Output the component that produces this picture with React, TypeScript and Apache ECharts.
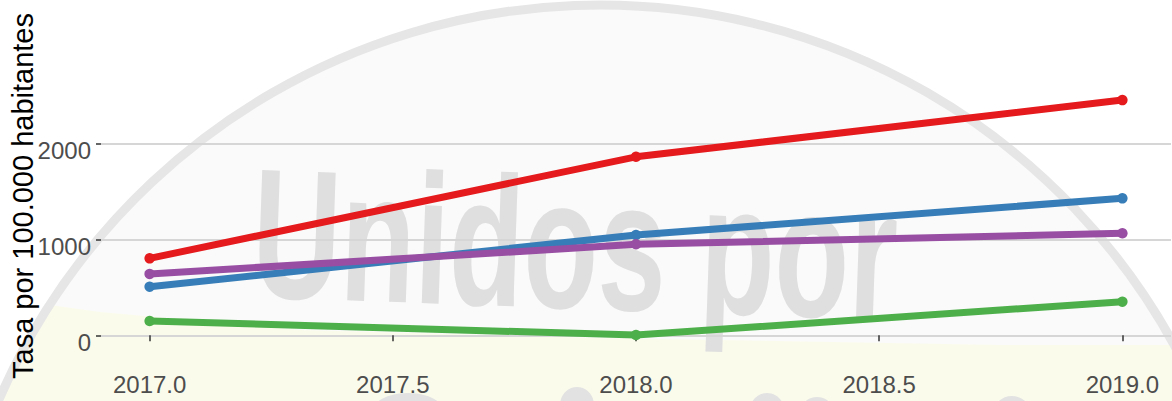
import React, { useEffect, useRef } from "react";
import * as echarts from "echarts";

const years = [2017, 2018, 2019];
const redValues = [802, 1860, 2451];
const blueValues = [506, 1045, 1427];
const greenValues = [149, 3, 350];
const purpleValues = [639, 948, 1063];
const xTicks = [2017, 2017.5, 2018, 2018.5, 2019];
const yTicks = [0, 1000, 2000];
const yTitle = "Tasa por 100.000 habitantes";
const watermarkText = "Unidos por";

const seriesDefs = [
  { key: "red", color: "#E41A1C", values: redValues },
  { key: "blue", color: "#377EB8", values: blueValues },
  { key: "green", color: "#4DAF4A", values: greenValues },
  { key: "purple", color: "#984EA3", values: purpleValues },
];

export default function App() {
  const ref = useRef<HTMLDivElement>(null);
  useEffect(() => {
    document.body.style.margin = "0";
    const chart = echarts.init(ref.current!, null, { renderer: "svg" });
    const font = "'Liberation Sans', Arial, sans-serif";
    const bgZ = -10;
    const option: any = {
      animation: false,
      backgroundColor: "#ffffff",
      grid: { left: 101, right: 1, top: 33, bottom: 41.7, containLabel: false, outerBoundsMode: "none" },
      graphic: [
        {
          type: "circle",
          z: bgZ,
          silent: true,
          shape: { cx: 600, cy: 660, r: 655 },
          style: { fill: "#FAFAFA", stroke: null },
        },
        {
          type: "polygon",
          z: bgZ,
          silent: true,
          shape: {
            points: [
              [50, 305], [100, 312], [300, 330], [600, 338], [1000, 345],
              [1172, 345], [1172, 401], [0, 401], [8, 380], [28, 340],
            ],
          },
          style: { fill: "#FBFBEC" },
        },
        {
          type: "circle",
          z: bgZ,
          silent: true,
          shape: { cx: 600, cy: 660, r: 655 },
          style: { fill: null, stroke: "#E6E6E6", lineWidth: 9 },
        },
        {
          type: "text",
          z: bgZ,
          silent: true,
          x: 575,
          y: 244,
          scaleX: 0.66,
          rotation: -0.035,
          style: {
            text: watermarkText,
            font: "bold 185px 'Liberation Sans Narrow', 'Liberation Sans', sans-serif",
            fill: "#DFDFDF",
            align: "center",
            verticalAlign: "middle",
          },
        },
        { type: "ellipse", z: bgZ, silent: true, shape: { cx: 408, cy: 412, rx: 36, ry: 19 }, style: { fill: "#E2E2E2" } },
        { type: "ellipse", z: bgZ, silent: true, shape: { cx: 577, cy: 405, rx: 17, ry: 18 }, style: { fill: "#E2E2E2" } },
        { type: "ellipse", z: bgZ, silent: true, shape: { cx: 767, cy: 410, rx: 17, ry: 17 }, style: { fill: "#E2E2E2" } },
        { type: "ellipse", z: bgZ, silent: true, shape: { cx: 817, cy: 413, rx: 17, ry: 16 }, style: { fill: "#E2E2E2" } },
        { type: "ellipse", z: bgZ, silent: true, shape: { cx: 1012, cy: 412, rx: 18, ry: 16 }, style: { fill: "#E2E2E2" } },
        {
          type: "text",
          z: 10,
          silent: true,
          x: 23,
          y: 196,
          rotation: Math.PI / 2,
          style: {
            text: yTitle,
            font: "29px 'Liberation Sans', Arial, sans-serif",
            fill: "#000000",
            align: "center",
            verticalAlign: "middle",
          },
        },
      ],
      xAxis: {
        type: "value",
        min: 2016.9,
        max: 2019.1,
        axisLine: { show: false },
        axisTick: {
          show: true,
          length: 6,
          customValues: xTicks,
          lineStyle: { color: "#333333", width: 1.5 },
        },
        axisLabel: {
          customValues: xTicks,
          formatter: (v: number) => v.toFixed(1),
          color: "#4D4D4D",
          fontSize: 24,
          fontFamily: font,
          margin: 13,
          showMinLabel: true,
          showMaxLabel: true,
        },
        splitLine: { show: false },
      },
      yAxis: {
        type: "value",
        min: -250,
        max: 3150,
        axisLine: { show: false },
        axisTick: {
          show: true,
          length: 5,
          customValues: yTicks,
          lineStyle: { color: "#333333", width: 1.5 },
        },
        axisLabel: {
          customValues: yTicks,
          formatter: (v: number) => String(v),
          color: "#4D4D4D",
          fontSize: 24,
          fontFamily: font,
          margin: 10,
          verticalAlign: "top",
          lineHeight: 15,
        },
        splitLine: { show: true, lineStyle: { color: "#D6D6D6", width: 2 } },
      },
      series: seriesDefs.map((s) => ({
        type: "line",
        name: s.key,
        data: years.map((y, i) => [y, s.values[i]]),
        symbol: "circle",
        symbolSize: 10.5,
        showSymbol: true,
        lineStyle: { color: s.color, width: 7 },
        itemStyle: { color: s.color },
        emphasis: { disabled: true },
      })),
    };
    chart.setOption(option);
    return () => chart.dispose();
  }, []);
  return <div ref={ref} style={{ width: 1172, height: 401 }} />;
}
